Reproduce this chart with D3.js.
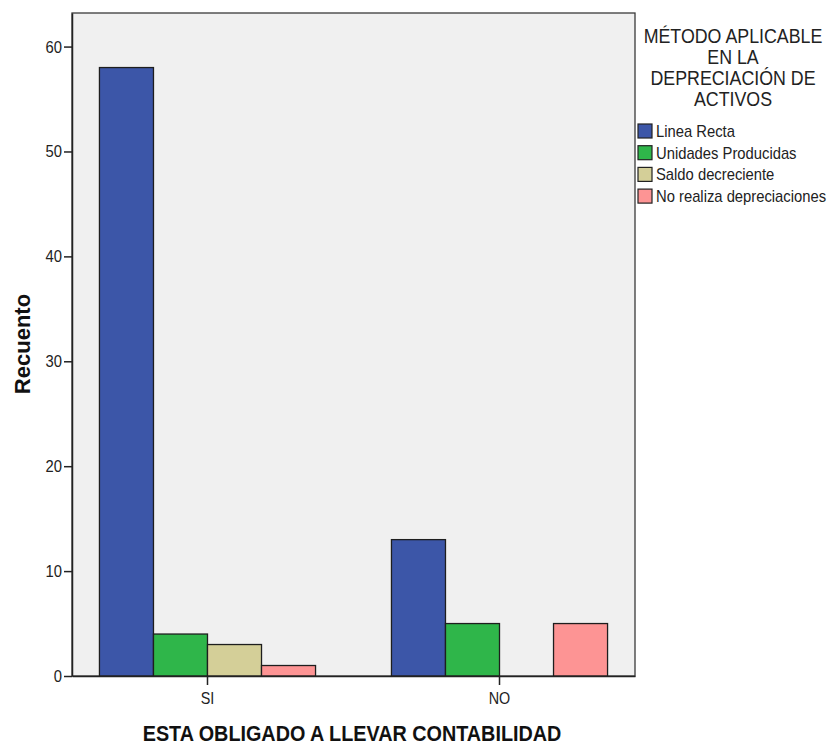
<!DOCTYPE html>
<html><head><meta charset="utf-8">
<script src="https://cdn.jsdelivr.net/npm/d3@7"></script>
<style>
body{margin:0;background:#fff;}
text{font-family:"Liberation Sans",Arial,sans-serif;}
</style></head>
<body>
<svg id="chart" width="829" height="747"></svg>
<script>
const categories = ["SI", "NO"];
const seriesNames = ["Linea Recta", "Unidades Producidas", "Saldo decreciente", "No realiza depreciaciones"];
const valuesLineaRecta = [58, 13];
const valuesUnidades = [4, 5];
const valuesSaldo = [3, 0];
const valuesNoRealiza = [1, 5];
const seriesColors = ["#3c56a8", "#2fb64a", "#d4cf98", "#fd9494"];
const yTicks = [0, 10, 20, 30, 40, 50, 60];
const yMax = 63.2;
const legendTitle = ["MÉTODO APLICABLE", "EN LA", "DEPRECIACIÓN DE", "ACTIVOS"];
const xTitle = "ESTA OBLIGADO A LLEVAR CONTABILIDAD";
const yTitle = "Recuento";

const seriesValues = [valuesLineaRecta, valuesUnidades, valuesSaldo, valuesNoRealiza];

const svg = d3.select("#chart");
const plot = {left: 72, top: 13, right: 635, bottom: 676};

function squeeze(sel, f) {
  sel.each(function() {
    const len = this.getComputedTextLength();
    d3.select(this).attr("textLength", len * f).attr("lengthAdjust", "spacingAndGlyphs");
  });
}
// narrow text drawn through a horizontal scale transform
function narrowText(parent, x, y, str, opts) {
  const sx = opts.sx || 1;
  const rot = opts.rotate ? ` rotate(${opts.rotate})` : "";
  return parent.append("text")
    .attr("transform", `translate(${x},${y})${rot} scale(${sx},1)`)
    .attr("text-anchor", opts.anchor || "start")
    .attr("font-size", opts.size)
    .attr("font-weight", opts.weight || "normal")
    .attr("fill", opts.fill || "#222")
    .text(str);
}

const x0 = d3.scaleBand().domain(categories).range([plot.left, plot.right])
  .paddingInner(0.26).paddingOuter(0.094);
const x1 = d3.scaleBand().domain(seriesNames).range([0, x0.bandwidth()]);
const y = d3.scaleLinear().domain([0, yMax]).range([plot.bottom, plot.top]);

// plot background
svg.append("rect").attr("x", plot.left).attr("y", plot.top)
  .attr("width", plot.right - plot.left).attr("height", plot.bottom - plot.top)
  .attr("fill", "#f0f0f0").attr("stroke", "#3a3a3a").attr("stroke-width", 1.3);

// bars
const data = [];
categories.forEach((c, ci) => {
  seriesNames.forEach((s, si) => {
    data.push({cat: c, series: s, value: seriesValues[si][ci], color: seriesColors[si]});
  });
});
svg.append("g").selectAll("rect").data(data.filter(d => d.value > 0)).join("rect")
  .attr("x", d => x0(d.cat) + x1(d.series))
  .attr("y", d => y(d.value))
  .attr("width", x1.bandwidth())
  .attr("height", d => y(0) - y(d.value))
  .attr("fill", d => d.color)
  .attr("stroke", "#1e1e1e").attr("stroke-width", 1.3);

// y axis
const yAxis = svg.append("g").attr("transform", `translate(${plot.left},0)`)
  .call(d3.axisLeft(y).tickValues(yTicks).tickFormat(d3.format("d")).tickSizeInner(8).tickSizeOuter(0).tickPadding(2));
yAxis.select(".domain").attr("stroke", "#222").attr("stroke-width", 1.5);
yAxis.selectAll(".tick line").attr("stroke", "#222").attr("stroke-width", 1.5);
yAxis.selectAll(".tick text").attr("font-size", 17).attr("fill", "#222")
  .attr("font-family", "Liberation Sans, Arial, sans-serif").call(squeeze, 0.87);

// x axis
const xAxis = svg.append("g").attr("transform", `translate(0,${plot.bottom})`)
  .call(d3.axisBottom(x0).tickSizeInner(9).tickSizeOuter(0).tickPadding(7));
xAxis.select(".domain").attr("stroke", "#222").attr("stroke-width", 1.5);
xAxis.selectAll(".tick line").attr("stroke", "#222").attr("stroke-width", 1.5);
xAxis.selectAll(".tick text").attr("font-size", 16.5).attr("fill", "#222")
  .attr("font-family", "Liberation Sans, Arial, sans-serif").call(squeeze, 0.87);

// axis titles
narrowText(svg, 352, 741, xTitle, {anchor: "middle", size: 22, weight: "bold", fill: "#111", sx: 0.9});
narrowText(svg, 30, 344, yTitle, {anchor: "middle", size: 22, weight: "bold", fill: "#111", rotate: -90});

// legend title
legendTitle.forEach((t, i) => {
  narrowText(svg, 733, 43 + i * 21, t, {anchor: "middle", size: 20, sx: 0.89});
});

// legend items
const leg = svg.append("g");
seriesNames.forEach((s, i) => {
  const yy = 124 + i * 21.7;
  leg.append("rect").attr("x", 638).attr("y", yy).attr("width", 14).attr("height", 14)
    .attr("fill", seriesColors[i]).attr("stroke", "#222").attr("stroke-width", 1.2);
  narrowText(leg, 656, yy + 13, s, {size: 17, sx: 0.87});
});
</script>
</body></html>
